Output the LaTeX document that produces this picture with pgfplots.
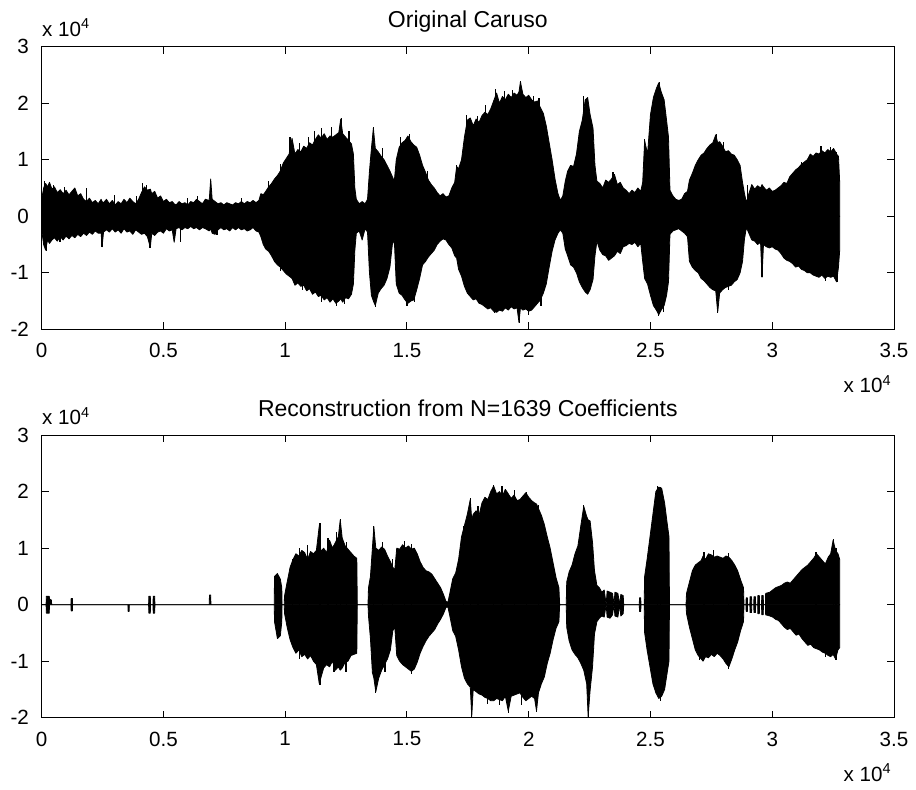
\documentclass[border=0pt]{standalone}
\usepackage{fontspec}
\setmainfont{Liberation Sans}
\usepackage{pgfplots}
\pgfplotsset{compat=1.18}
\usepackage{pgfplotstable}

% envelope of the original signal (x and y in units of 10^4)
\pgfplotstableread{
x hi lo
0.000 0.30 -0.25
0.008 0.50 -0.50
0.016 0.58 -0.60
0.024 0.52 -0.42
0.032 0.60 -0.48
0.042 0.48 -0.42
0.052 0.52 -0.38
0.064 0.42 -0.44
0.076 0.47 -0.36
0.088 0.40 -0.42
0.100 0.46 -0.35
0.112 0.38 -0.40
0.124 0.44 -0.34
0.136 0.50 -0.38
0.148 0.36 -0.32
0.160 0.40 -0.36
0.172 0.30 -0.30
0.184 0.26 -0.34
0.196 0.32 -0.28
0.208 0.24 -0.32
0.220 0.28 -0.26
0.232 0.22 -0.30
0.244 0.30 -0.30
0.248 0.26 -0.54
0.254 0.24 -0.28
0.266 0.30 -0.24
0.278 0.22 -0.28
0.290 0.28 -0.22
0.302 0.20 -0.28
0.314 0.26 -0.24
0.326 0.22 -0.30
0.338 0.30 -0.22
0.350 0.24 -0.28
0.362 0.32 -0.26
0.374 0.26 -0.32
0.386 0.22 -0.24
0.398 0.30 -0.28
0.410 0.42 -0.32
0.422 0.52 -0.30
0.434 0.46 -0.36
0.446 0.48 -0.55
0.452 0.40 -0.30
0.464 0.44 -0.34
0.476 0.32 -0.28
0.488 0.36 -0.26
0.500 0.26 -0.30
0.512 0.30 -0.22
0.524 0.24 -0.26
0.536 0.26 -0.24
0.544 0.22 -0.46
0.552 0.20 -0.22
0.564 0.26 -0.20
0.576 0.22 -0.24
0.588 0.24 -0.20
0.600 0.20 -0.22
0.612 0.26 -0.18
0.624 0.24 -0.22
0.636 0.30 -0.20
0.648 0.26 -0.24
0.660 0.22 -0.20
0.672 0.30 -0.22
0.688 0.28 -0.26
0.694 0.66 -0.22
0.700 0.30 -0.30
0.712 0.26 -0.32
0.724 0.22 -0.24
0.736 0.24 -0.20
0.748 0.20 -0.24
0.760 0.24 -0.22
0.772 0.22 -0.26
0.784 0.20 -0.20
0.796 0.24 -0.24
0.808 0.22 -0.20
0.820 0.26 -0.24
0.832 0.22 -0.22
0.844 0.26 -0.26
0.856 0.24 -0.24
0.868 0.28 -0.20
0.880 0.24 -0.26
0.892 0.28 -0.28
0.900 0.40 -0.36
0.910 0.38 -0.50
0.920 0.44 -0.58
0.932 0.52 -0.62
0.944 0.58 -0.70
0.956 0.66 -0.80
0.968 0.72 -0.86
0.980 0.80 -0.90
0.992 0.94 -0.96
1.004 1.02 -1.02
1.016 1.10 -1.06
1.028 1.38 -1.10
1.040 1.10 -1.22
1.052 1.18 -1.18
1.064 1.14 -1.24
1.076 1.24 -1.22
1.088 1.20 -1.32
1.100 1.30 -1.28
1.112 1.26 -1.38
1.124 1.36 -1.34
1.136 1.44 -1.42
1.148 1.38 -1.40
1.160 1.46 -1.48
1.172 1.36 -1.44
1.184 1.42 -1.52
1.196 1.40 -1.46
1.208 1.44 -1.54
1.220 1.48 -1.50
1.228 1.72 -1.46
1.236 1.46 -1.52
1.248 1.40 -1.44
1.260 1.34 -1.46
1.272 1.28 -1.38
1.280 1.10 -1.20
1.286 0.50 -0.60
1.292 0.30 -0.30
1.304 0.22 -0.26
1.316 0.26 -0.42
1.328 0.22 -0.22
1.338 0.30 -0.28
1.346 0.80 -1.00
1.354 1.20 -1.40
1.362 1.56 -1.50
1.370 1.20 -1.58
1.382 1.14 -1.36
1.394 1.06 -1.28
1.406 1.00 -1.22
1.418 0.90 -1.10
1.430 0.80 -0.90
1.440 0.70 -0.50
1.448 0.62 -0.42
1.456 1.00 -1.20
1.468 1.22 -1.36
1.480 1.30 -1.40
1.492 1.34 -1.48
1.504 1.42 -1.54
1.516 1.32 -1.50
1.528 1.26 -1.48
1.540 1.22 -1.30
1.552 1.08 -1.10
1.564 0.90 -0.86
1.576 0.78 -0.80
1.588 0.64 -0.72
1.600 0.56 -0.66
1.612 0.50 -0.60
1.624 0.42 -0.50
1.636 0.36 -0.44
1.648 0.40 -0.40
1.660 0.34 -0.42
1.672 0.36 -0.50
1.684 0.50 -0.56
1.696 0.60 -0.70
1.704 0.88 -0.74
1.712 0.84 -0.94
1.724 1.00 -1.06
1.736 1.40 -1.24
1.748 1.70 -1.36
1.760 1.74 -1.42
1.772 1.60 -1.48
1.784 1.72 -1.46
1.796 1.66 -1.54
1.808 1.78 -1.56
1.820 1.84 -1.60
1.832 1.80 -1.64
1.844 1.90 -1.62
1.856 2.04 -1.68
1.868 2.18 -1.70
1.880 2.00 -1.66
1.892 2.12 -1.68
1.904 2.06 -1.62
1.916 2.16 -1.66
1.928 2.10 -1.60
1.940 2.18 -1.64
1.952 2.14 -1.62
1.960 2.20 -1.88
1.966 2.38 -1.62
1.976 2.16 -1.66
1.988 2.10 -1.64
2.000 2.14 -1.68
2.012 2.06 -1.66
2.024 2.02 -1.60
2.036 2.04 -1.54
2.048 1.92 -1.48
2.060 1.82 -1.36
2.072 1.60 -1.20
2.084 1.30 -0.90
2.096 1.00 -0.62
2.108 0.66 -0.42
2.120 0.40 -0.30
2.130 0.28 -0.24
2.140 0.36 -0.30
2.150 0.62 -0.58
2.160 0.80 -0.70
2.172 0.90 -0.86
2.184 0.88 -0.90
2.196 1.10 -1.00
2.208 1.50 -1.16
2.220 1.70 -1.26
2.232 2.06 -1.34
2.242 2.10 -1.38
2.252 1.80 -1.30
2.264 1.56 -1.12
2.272 0.90 -0.70
2.280 0.62 -0.44
2.292 0.58 -0.60
2.304 0.50 -0.68
2.316 0.64 -0.70
2.328 0.60 -0.78
2.340 0.66 -0.74
2.352 0.74 -0.70
2.364 0.56 -0.62
2.376 0.60 -0.66
2.388 0.50 -0.54
2.400 0.46 -0.52
2.412 0.40 -0.48
2.424 0.46 -0.50
2.436 0.42 -0.46
2.448 0.50 -0.54
2.460 0.44 -0.48
2.468 0.60 -0.80
2.476 1.34 -1.10
2.488 1.10 -1.20
2.500 1.80 -1.40
2.512 2.10 -1.58
2.524 2.26 -1.66
2.534 2.36 -1.74
2.544 2.20 -1.66
2.556 2.06 -1.58
2.566 1.70 -1.40
2.574 1.40 -1.16
2.580 0.46 -0.32
2.592 0.36 -0.26
2.604 0.30 -0.24
2.616 0.28 -0.22
2.628 0.30 -0.26
2.640 0.40 -0.30
2.652 0.44 -0.36
2.660 0.64 -0.80
2.672 0.76 -0.90
2.684 0.90 -0.96
2.696 1.00 -1.00
2.708 1.08 -1.10
2.720 1.12 -1.14
2.732 1.20 -1.20
2.744 1.26 -1.26
2.756 1.30 -1.30
2.768 1.44 -1.32
2.776 1.30 -1.70
2.784 1.32 -1.36
2.796 1.24 -1.30
2.808 1.14 -1.26
2.820 1.16 -1.24
2.832 1.10 -1.22
2.844 1.08 -1.16
2.856 1.00 -1.12
2.868 0.90 -1.00
2.878 0.60 -0.80
2.886 0.40 -0.40
2.894 0.24 -0.20
2.904 0.40 -0.30
2.916 0.56 -0.42
2.928 0.48 -0.44
2.940 0.54 -0.50
2.952 0.50 -0.46
2.958 0.56 -1.08
2.964 0.52 -0.50
2.976 0.46 -0.54
2.988 0.50 -0.56
3.000 0.44 -0.54
3.012 0.46 -0.58
3.024 0.50 -0.60
3.036 0.54 -0.66
3.048 0.60 -0.74
3.060 0.58 -0.78
3.072 0.70 -0.80
3.084 0.76 -0.84
3.096 0.82 -0.90
3.108 0.86 -0.88
3.120 0.92 -0.94
3.132 0.96 -0.96
3.144 1.00 -1.00
3.156 1.10 -1.00
3.168 1.06 -1.04
3.180 1.12 -1.06
3.192 1.10 -1.08
3.204 1.16 -1.04
3.216 1.12 -1.10
3.228 1.18 -1.06
3.240 1.14 -1.08
3.252 1.20 -1.06
3.264 1.10 -1.16
3.272 1.06 -0.90
3.277 0.60 -0.60
}\origdata

% single peaks of the original that stick out of the envelope
\pgfplotstableread{
x y
0.011 0.62
0.050 0.56
0.095 0.52
0.185 0.50
0.300 0.38
0.390 0.36
0.415 0.58
0.430 0.56
0.600 0.32
0.640 0.36
0.820 0.32
0.930 0.62
0.980 0.92
1.020 1.40
1.060 1.30
1.095 1.40
1.120 1.50
1.150 1.56
1.190 1.58
1.232 1.74
1.262 1.50
1.364 1.58
1.400 1.20
1.475 1.40
1.510 1.46
1.585 0.80
1.702 0.90
1.746 1.80
1.790 1.78
1.822 1.96
1.862 2.26
1.902 2.22
1.934 2.24
1.967 2.40
2.020 2.12
2.042 2.10
2.226 2.12
2.346 0.78
2.475 1.36
2.536 2.38
2.770 1.46
2.800 1.32
2.900 0.55
3.120 0.96
3.200 1.24
3.240 1.22
3.262 1.14
0.020 -0.62
0.075 -0.46
0.248 -0.55
0.445 -0.56
0.570 -0.46
0.720 -0.34
0.980 -0.96
1.070 -1.30
1.150 -1.52
1.210 -1.58
1.242 -1.56
1.372 -1.60
1.500 -1.58
1.530 -1.52
1.860 -1.72
1.962 -1.88
2.000 -1.74
2.050 -1.58
2.532 -1.76
2.552 -1.70
2.776 -1.72
2.820 -1.30
2.958 -1.08
3.220 -1.14
3.268 -1.16
}\origpeaks

% envelope of the reconstruction
\pgfplotstableread{
x hi lo
0.000 0 0
0.018 0 0
0.019 0.15 -0.15
0.031 0.15 -0.15
0.032 0.10 0
0.040 0.08 0
0.041 0 0
0.120 0 0
0.121 0.11 -0.11
0.126 0.11 -0.11
0.127 0 0
0.354 0 0
0.355 0 -0.12
0.359 0 -0.12
0.360 0 0
0.439 0 0
0.440 0.15 -0.15
0.446 0.15 -0.15
0.447 0 0
0.457 0 0
0.458 0.15 -0.15
0.464 0.15 -0.15
0.465 0 0
0.688 0 0
0.689 0.17 0
0.694 0.17 0
0.695 0 0
0.955 0 0
0.956 0.50 -0.30
0.968 0.55 -0.60
0.980 0.45 -0.55
0.986 0.30 -0.30
0.987 0 0
0.996 0 0
0.997 0.15 -0.15
1.008 0.40 -0.40
1.020 0.66 -0.62
1.032 0.80 -0.76
1.044 0.90 -0.86
1.056 0.86 -0.80
1.068 0.96 -0.92
1.080 0.92 -0.88
1.092 0.80 -0.96
1.104 0.94 -0.90
1.116 0.90 -1.00
1.128 0.96 -1.06
1.140 1.40 -1.40
1.146 0.94 -1.30
1.158 1.00 -1.12
1.170 0.92 -1.06
1.182 1.14 -1.10
1.194 1.00 -1.00
1.206 1.10 -1.16
1.218 1.20 -1.10
1.226 1.50 -1.16
1.234 1.18 -1.12
1.246 1.04 -1.02
1.258 0.98 -1.00
1.270 0.92 -0.90
1.282 0.86 -0.88
1.294 0.82 -0.86
1.296 0 0
1.340 0 0
1.342 0.30 -0.20
1.350 0.50 -0.60
1.358 1.00 -1.20
1.364 1.38 -1.30
1.372 1.00 -1.54
1.384 0.96 -1.30
1.396 1.02 -1.16
1.408 0.98 -1.06
1.420 0.86 -0.96
1.432 0.76 -0.80
1.442 0.66 -0.46
1.450 0.62 -0.40
1.458 1.00 -0.90
1.470 0.98 -1.00
1.482 1.06 -1.06
1.494 1.00 -1.10
1.506 1.04 -1.14
1.518 0.98 -1.18
1.530 1.00 -1.14
1.542 0.90 -1.02
1.554 0.76 -0.86
1.566 0.66 -0.74
1.578 0.60 -0.64
1.590 0.58 -0.56
1.602 0.54 -0.50
1.614 0.46 -0.44
1.626 0.38 -0.34
1.638 0.30 -0.26
1.650 0.18 -0.16
1.660 0.06 -0.05
1.668 0.04 -0.04
1.676 0.20 -0.20
1.688 0.46 -0.46
1.700 0.56 -0.56
1.712 0.80 -0.80
1.724 1.20 -1.10
1.736 1.40 -1.30
1.748 1.60 -1.40
1.760 1.86 -1.46
1.766 1.50 -1.98
1.772 1.60 -1.50
1.784 1.66 -1.54
1.796 1.58 -1.58
1.808 1.80 -1.60
1.820 1.90 -1.64
1.832 1.86 -1.66
1.844 2.00 -1.70
1.856 2.10 -1.70
1.868 1.96 -1.66
1.880 2.00 -1.68
1.892 1.92 -1.70
1.904 2.04 -1.62
1.916 1.96 -1.88
1.928 1.88 -1.62
1.940 1.94 -1.60
1.952 1.84 -1.58
1.964 1.86 -1.56
1.976 1.92 -1.64
1.988 1.98 -1.70
2.000 1.90 -1.66
2.012 1.84 -1.62
2.024 1.80 -1.66
2.032 1.78 -1.88
2.040 1.70 -1.56
2.052 1.58 -1.40
2.064 1.42 -1.28
2.076 1.20 -1.04
2.088 1.00 -0.86
2.100 0.74 -0.62
2.112 0.48 -0.42
2.124 0.30 -0.30
2.127 0 0
2.154 0 0
2.156 0.40 -0.40
2.166 0.58 -0.64
2.178 0.70 -0.80
2.190 0.90 -0.88
2.202 1.04 -0.94
2.214 1.40 -1.04
2.226 1.74 -1.16
2.238 1.56 -1.40
2.244 1.50 -1.98
2.252 1.48 -1.52
2.262 1.10 -1.10
2.270 0.60 -0.52
2.280 0.34 -0.30
2.290 0.30 -0.24
2.300 0.22 -0.20
2.310 0.26 -0.22
2.318 0 0
2.322 0.24 -0.22
2.334 0.22 -0.24
2.344 0.20 -0.18
2.350 0 0
2.354 0.22 -0.20
2.366 0.20 -0.22
2.374 0 0
2.378 0.18 -0.20
2.388 0.16 -0.16
2.390 0 0
2.454 0 0
2.455 0.12 -0.12
2.460 0.12 -0.12
2.461 0 0
2.474 0 0
2.476 0.50 -0.50
2.486 0.80 -0.80
2.498 1.20 -1.10
2.510 1.60 -1.40
2.522 2.00 -1.56
2.534 2.08 -1.66
2.546 2.06 -1.62
2.558 1.80 -1.50
2.568 1.46 -1.22
2.576 1.20 -1.00
2.578 0 0
2.646 0 0
2.648 0.20 -0.16
2.660 0.40 -0.40
2.672 0.60 -0.60
2.684 0.70 -0.80
2.696 0.74 -0.90
2.708 0.78 -0.96
2.716 0.86 -1.00
2.726 0.80 -0.92
2.738 0.90 -0.94
2.750 0.88 -0.88
2.762 0.84 -0.92
2.774 0.86 -0.86
2.786 0.84 -0.90
2.798 0.82 -0.96
2.810 0.86 -1.04
2.822 0.84 -1.10
2.834 0.78 -0.96
2.846 0.70 -0.80
2.858 0.60 -0.66
2.870 0.44 -0.46
2.882 0.30 -0.30
2.884 0 0
2.892 0 0
2.893 0.12 -0.12
2.898 0.12 -0.12
2.899 0 0
2.908 0 0
2.909 0.14 -0.14
2.915 0.14 -0.14
2.916 0 0
2.924 0 0
2.925 0.14 -0.14
2.931 0.14 -0.14
2.932 0 0
2.940 0 0
2.941 0.16 -0.16
2.947 0.16 -0.16
2.948 0 0
2.956 0 0
2.957 0.16 -0.18
2.963 0.16 -0.18
2.964 0 0
2.972 0 0
2.973 0.20 -0.18
2.990 0.22 -0.20
3.002 0.26 -0.22
3.014 0.30 -0.26
3.026 0.32 -0.28
3.038 0.34 -0.34
3.050 0.38 -0.40
3.062 0.40 -0.44
3.074 0.38 -0.42
3.086 0.44 -0.48
3.098 0.50 -0.54
3.110 0.56 -0.52
3.122 0.62 -0.60
3.134 0.66 -0.66
3.146 0.70 -0.72
3.158 0.76 -0.70
3.170 0.82 -0.76
3.182 0.90 -0.78
3.194 0.84 -0.80
3.206 0.78 -0.84
3.218 0.72 -0.86
3.230 0.84 -0.90
3.240 0.90 -0.92
3.250 1.14 -0.88
3.260 0.96 -0.96
3.270 0.90 -0.80
3.277 0.80 -0.76
}\recdata

\pgfplotstableread{
x y
1.030 0.80
1.060 1.00
1.090 1.06
1.143 1.44
1.176 1.18
1.212 1.28
1.226 1.52
1.252 1.10
1.364 1.40
1.400 1.10
1.440 0.80
1.490 1.12
1.520 1.08
1.732 1.40
1.760 1.88
1.792 1.74
1.855 2.12
1.890 2.10
1.940 2.02
1.990 2.00
2.040 1.76
2.226 1.76
2.530 2.10
2.542 2.08
2.720 0.94
2.760 0.96
2.820 0.92
3.180 0.94
3.250 1.16
3.262 1.00
1.060 -0.96
1.143 -1.42
1.200 -1.20
1.250 -1.20
1.372 -1.56
1.410 -1.20
1.520 -1.22
1.766 -2.00
1.830 -1.76
1.880 -1.78
1.916 -1.92
1.970 -1.78
2.032 -1.90
2.244 -2.00
2.540 -1.70
2.700 -0.98
2.822 -1.14
3.220 -0.92
3.262 -0.98
}\recpeaks

\pgfplotsset{
  matlab/.style={
    scale only axis, width=426.15pt, height=141.3pt,
    xmin=0, xmax=3.5, ymin=-2, ymax=3,
    xtick={0,0.5,1,1.5,2,2.5,3,3.5},
    xticklabels={0,0.5,1,1.5,2,2.5,3,3.5},
    ytick={-2,-1,0,1,2,3},
    yticklabels={-2,-1,0,1,2,3},
    scaled ticks=false,
    tick align=inside, major tick length=3.5pt,
    axis line style={line width=0.5pt},
    every tick/.style={black, line width=0.5pt},
    ticklabel style={font=\fontsize{10.3}{12}\selectfont},
    xticklabel style={yshift=-3.5pt},
    yticklabel style={xshift=-2.9pt},
    title style={font=\fontsize{11.5}{13}\selectfont, anchor=base, yshift=3.35pt},
    clip=false,
  },
  wave/.style={draw=black, fill=black, line width=0.4pt, line join=round},
  peaks/.style={ycomb, black, line width=0.6pt, mark=none},
}

\begin{document}
\begin{tikzpicture}
\useasboundingbox (-20.85pt,-36.15pt) rectangle (437.15pt,358.85pt);

\begin{axis}[matlab, at={(0,194.2pt)}, anchor=south west, title={Original Caruso}]
  \addplot[wave] table[x=x, y=hi] {\origdata} \closedcycle;
  \addplot[wave] table[x=x, y=lo] {\origdata} \closedcycle;
  \addplot[peaks] table[x=x, y=y] {\origpeaks};
  \node[anchor=base west, inner sep=0pt, font=\fontsize{10.3}{12}\selectfont]
    at (rel axis cs:0,1) [yshift=5.3pt] {x 10\textsuperscript{4}};
  \node[anchor=base east, inner sep=0pt, font=\fontsize{10.3}{12}\selectfont]
    at (rel axis cs:1,0) [yshift=-31.7pt, xshift=-1pt] {x 10\textsuperscript{4}};
\end{axis}

\begin{axis}[matlab, at={(0,0)}, anchor=south west, title={Reconstruction from N=1639 Coefficients}]
  \addplot[wave] table[x=x, y=hi] {\recdata} \closedcycle;
  \addplot[wave] table[x=x, y=lo] {\recdata} \closedcycle;
  \addplot[peaks] table[x=x, y=y] {\recpeaks};
  \node[anchor=base west, inner sep=0pt, font=\fontsize{10.3}{12}\selectfont]
    at (rel axis cs:0,1) [yshift=5.3pt] {x 10\textsuperscript{4}};
  \node[anchor=base east, inner sep=0pt, font=\fontsize{10.3}{12}\selectfont]
    at (rel axis cs:1,0) [yshift=-31.7pt, xshift=-1pt] {x 10\textsuperscript{4}};
\end{axis}
\end{tikzpicture}
\end{document}
